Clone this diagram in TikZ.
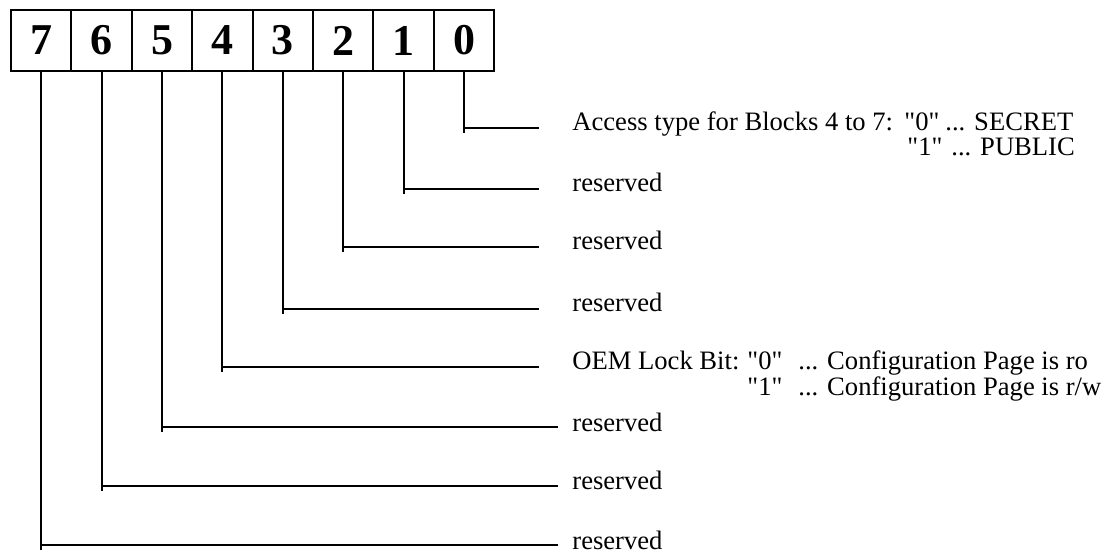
\documentclass[tikz,border=0pt]{standalone}
\usepackage{fontspec}
\setmainfont{Liberation Serif}[Ligatures=TeXOff]
\begin{document}
\begin{tikzpicture}[x=0.5pt,y=-0.5pt,
  bitbox/.style={draw,line width=1pt,minimum width=30.2pt,minimum height=30.5pt,inner sep=0pt,
    font=\fontsize{22}{22}\selectfont\bfseries},
  conn/.style={line width=1pt},
  lbl/.style={anchor=base west,inner sep=0pt,font=\fontsize{13.3}{13.3}\selectfont}]
\useasboundingbox (0,0) rectangle (1106,552);
% bit boxes
\foreach \b [count=\i from 0] in {7,6,5,4,3,2,1,0}
  \node[bitbox] (b\b) at ({41.2+60.4*\i},40.5) {\b};
% line end coordinates
\coordinate (e0) at (539,128);
\coordinate (e1) at (539,189);
\coordinate (e2) at (539,247);
\coordinate (e3) at (539,309);
\coordinate (e4) at (539,367);
\coordinate (e5) at (558,427);
\coordinate (e6) at (558,486);
\coordinate (e7) at (558,545);
% connectors
\foreach \b in {0,...,7}{
  \draw[conn] (b\b.south) |- (e\b);
  \draw[conn] (e\b -| b\b.south) -- ++(0,5);
}
% labels
\node[lbl] (t0a) at (572,130) {Access type for Blocks 4 to 7:};
\node[lbl] (t0b) at (904,130) {"0"};
\node[lbl] (t0c) at (945,130) {... SECRET};
\node[lbl] (t0d) at (907,155) {"1"};
\node[lbl] (t0e) at (951,155) {... PUBLIC};
\node[lbl] (t1) at (572,191) {reserved};
\node[lbl] (t2) at (572,249) {reserved};
\node[lbl] (t3) at (572,311) {reserved};
\node[lbl] (t4a) at (572,369) {OEM Lock Bit:};
\node[lbl] (t4b) at (747,369) {"0"};
\node[lbl] (t4c) at (798,369) {... Configuration Page is ro};
\node[lbl] (t4d) at (747,395) {"1"};
\node[lbl] (t4e) at (798,395) {... Configuration Page is r/w};
\node[lbl] (t5) at (572,431) {reserved};
\node[lbl] (t6) at (572,489) {reserved};
\node[lbl] (t7) at (572,549) {reserved};
\end{tikzpicture}
\end{document}
